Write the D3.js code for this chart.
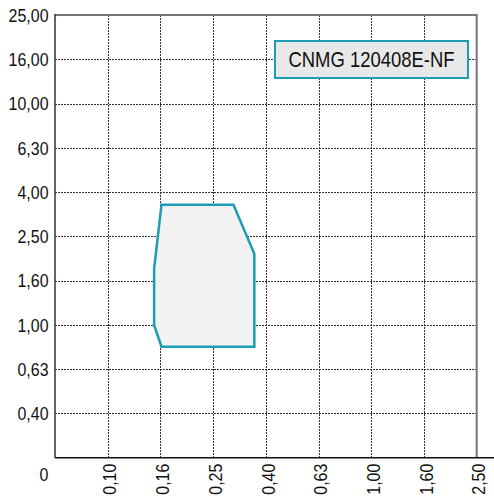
<!DOCTYPE html>
<html>
<head>
<meta charset="utf-8">
<script src="https://cdn.jsdelivr.net/npm/d3@7"></script>
<style>
  html, body { margin: 0; padding: 0; background: #fff; }
  svg { display: block; }
  text { font-family: "Liberation Sans", Arial, sans-serif; fill: #111; }
</style>
</head>
<body>
<svg id="chart" width="494" height="497"></svg>
<script>
// ---- data ----
const xTickLabels = ["0,10", "0,16", "0,25", "0,40", "0,63", "1,00", "1,60", "2,50"];
const yTickLabels = ["0,40", "0,63", "1,00", "1,60", "2,50", "4,00", "6,30", "10,00", "16,00", "25,00"];
const originLabel = "0";
// polygon (feed f [mm/rev], depth of cut ap [mm])
const feedValues  = [0.16, 0.30, 0.36, 0.36, 0.16, 0.15, 0.15];
const depthValues = [3.5,  3.5,  2.1,  0.8,  0.8,  1.0,  1.8];
const legendLabel = "CNMG 120408E-NF";

// ---- layout ----
const W = 494, H = 497;
const mLeft = 55, mRight = 476.7, mTop = 15, mBottom = 457.7;
const teal = "#1b9db6";
const squeeze = 0.84; // condensed look for the text

const svg = d3.select("#chart");

// category (point) scales for the ticks: index 0 is the origin "0"
const xCats = [originLabel].concat(xTickLabels);
const yCats = [originLabel].concat(yTickLabels);
const xPos = d3.scalePoint().domain(xCats).range([mLeft, mRight]);
const yPos = d3.scalePoint().domain(yCats).range([mBottom, mTop]);

// log scales for the data (R10/5 series: each step = 10^(1/5))
const xLog = d3.scaleLog().domain([0.1 / Math.pow(10, 0.2), 2.5 * 1.0048]).range([mLeft, mRight]);
const yLog = d3.scaleLog().domain([0.4 / Math.pow(10, 0.2), 25 * 1.0048]).range([mBottom, mTop]);

// gridlines
const grid = svg.append("g").attr("stroke", "#333").attr("stroke-width", 1).attr("stroke-dasharray", "2,1");
grid.selectAll("line.v").data(xTickLabels.slice(0, -1)).join("line")
  .attr("class", "v")
  .attr("x1", d => Math.round(xPos(d)) + 0.5).attr("x2", d => Math.round(xPos(d)) + 0.5)
  .attr("y1", mTop).attr("y2", mBottom);
grid.selectAll("line.h").data(yTickLabels.slice(0, -1)).join("line")
  .attr("class", "h")
  .attr("y1", d => Math.round(yPos(d)) + 0.5).attr("y2", d => Math.round(yPos(d)) + 0.5)
  .attr("x1", mLeft).attr("x2", mRight);

// polygon
const pts = feedValues.map((f, i) => [xLog(f), yLog(depthValues[i])]);
svg.append("path")
  .attr("d", d3.line()(pts) + "Z")
  .attr("fill", "#f2f2f2")
  .attr("stroke", teal)
  .attr("stroke-width", 2.5)
  .attr("stroke-linejoin", "miter");

// frame
svg.append("line").attr("x1", mLeft).attr("x2", mRight).attr("y1", mTop).attr("y2", mTop)
  .attr("stroke", "#777").attr("stroke-width", 2);
svg.append("line").attr("x1", mRight).attr("x2", mRight).attr("y1", mTop - 1).attr("y2", mBottom)
  .attr("stroke", "#777").attr("stroke-width", 2);
svg.append("line").attr("x1", mLeft).attr("x2", mLeft).attr("y1", mTop - 1).attr("y2", mBottom)
  .attr("stroke", "#333").attr("stroke-width", 1.5);
svg.append("line").attr("x1", mLeft).attr("x2", W).attr("y1", mBottom).attr("y2", mBottom)
  .attr("stroke", "#111").attr("stroke-width", 1.5);

// y tick labels
svg.append("g").selectAll("text").data(yTickLabels).join("text")
  .attr("transform", d => `translate(48.5,${yPos(d)}) scale(${squeeze},1)`)
  .attr("dy", "0.36em")
  .attr("text-anchor", "end").attr("font-size", 19)
  .text(d => d);

// origin label
svg.append("text")
  .attr("transform", `translate(48.5,${mBottom + 23.5}) scale(${squeeze},1)`)
  .attr("text-anchor", "end").attr("font-size", 19).text(originLabel);

// x tick labels (rotated)
svg.append("g").selectAll("text").data(xTickLabels).join("text")
  .attr("transform", d => `translate(${xPos(d) + 2},${mBottom + 6}) rotate(-90) scale(${squeeze},1)`)
  .attr("dy", "0.35em")
  .attr("text-anchor", "end").attr("font-size", 19)
  .text(d => d);

// legend
const lg = svg.append("g");
lg.append("rect").attr("x", 275).attr("y", 41).attr("width", 193).attr("height", 37)
  .attr("fill", "#e8e8e8").attr("stroke", teal).attr("stroke-width", 2);
lg.append("text")
  .attr("transform", `translate(371.5,59.5) scale(${squeeze},1)`)
  .attr("dy", "0.36em")
  .attr("text-anchor", "middle").attr("font-size", 22).text(legendLabel);
</script>
</body>
</html>
